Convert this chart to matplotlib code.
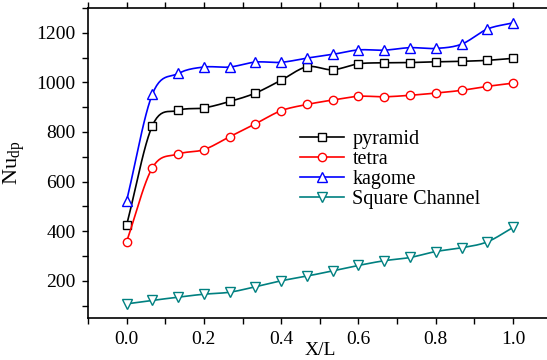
import numpy as np
import matplotlib
matplotlib.use('Agg')
import matplotlib.pyplot as plt
from matplotlib.ticker import MultipleLocator

plt.rcParams['font.family'] = ['Liberation Serif', 'DejaVu Serif']
plt.rcParams['mathtext.fontset'] = 'custom'
plt.rcParams['mathtext.rm'] = 'Liberation Serif'

# data
x_pos = [0.0, 0.0667, 0.1333, 0.2, 0.2667, 0.3333, 0.4, 0.4667,
         0.5333, 0.6, 0.6667, 0.7333, 0.8, 0.8667, 0.9333, 1.0]
pyramid = [425, 826, 887, 897, 923, 957, 1009, 1063,
           1051, 1075, 1079, 1080, 1083, 1085, 1089, 1097]
tetra = [358, 656, 711, 729, 781, 833, 886, 911,
         929, 944, 942, 948, 957, 968, 984, 997]
kagome = [523, 953, 1036, 1062, 1062, 1082, 1081, 1098,
          1113, 1131, 1130, 1140, 1137, 1154, 1215, 1240]
square_channel = [107, 121, 134, 146, 154, 176, 200, 219,
                  240, 262, 281, 294, 318, 333, 357, 415]

names = ['pyramid', 'tetra', 'kagome', 'Square Channel']
colors = ['black', 'red', 'blue', '#008080']
markers = ['s', 'o', '^', 'v']
msizes = [5.5, 6.0, 6.5, 6.5]


# smooth curve through the points (catmull-rom), like Origin's spline line
def smooth(xs, ys, n=12):
    xs = np.asarray(xs, float)
    ys = np.asarray(ys, float)
    px = np.concatenate([[2 * xs[0] - xs[1]], xs, [2 * xs[-1] - xs[-2]]])
    py = np.concatenate([[2 * ys[0] - ys[1]], ys, [2 * ys[-1] - ys[-2]]])
    out_x, out_y = [], []
    t = np.linspace(0, 1, n, endpoint=False)
    for i in range(1, len(px) - 2):
        for arr, out in ((px, out_x), (py, out_y)):
            p0, p1, p2, p3 = arr[i - 1], arr[i], arr[i + 1], arr[i + 2]
            out.extend(0.5 * (2 * p1 + (-p0 + p2) * t
                              + (2 * p0 - 5 * p1 + 4 * p2 - p3) * t ** 2
                              + (-p0 + 3 * p1 - 3 * p2 + p3) * t ** 3))
    out_x.append(xs[-1])
    out_y.append(ys[-1])
    return out_x, out_y


fig = plt.figure(figsize=(5.47, 3.6), dpi=100)
ax = fig.add_axes([88 / 547, 42 / 360, (551.7 - 88) / 547, 310 / 360])

for ys, name, c, m, s in zip([pyramid, tetra, kagome, square_channel], names, colors, markers, msizes):
    sx, sy = smooth(x_pos, ys)
    ax.plot(sx, sy, color=c, lw=1.2)
    ax.plot(x_pos, ys, ls='none', marker=m, ms=s, mfc='white', mec=c, mew=1.0)
    ax.plot([], [], color=c, lw=1.2, marker=m, ms=s, mfc='white', mec=c, mew=1.0, label=name)

ax.set_xlim(-0.1, 1.1)
ax.set_ylim(50, 1300)
ax.xaxis.set_major_locator(MultipleLocator(0.2))
ax.xaxis.set_minor_locator(MultipleLocator(0.1))
ax.yaxis.set_major_locator(MultipleLocator(200))
ax.yaxis.set_minor_locator(MultipleLocator(100))
ax.xaxis.set_major_formatter(plt.FuncFormatter(lambda v, p: '%.1f' % v))
ax.tick_params(which='both', direction='out', top=True, right=True, labelsize=14, width=1.0)
ax.tick_params(which='major', length=4, pad=5)
ax.tick_params(which='minor', length=4)
for s in ax.spines.values():
    s.set_linewidth(1.2)

ax.set_xlabel('X/L', fontsize=14, labelpad=-4)
ax.set_ylabel(r'Nu$_{\rm dp}$', fontsize=16, labelpad=6)

ax.legend(loc='upper left', bbox_to_anchor=(0.4356, 0.64), frameon=False, fontsize=14.5,
          handlelength=2.2, handletextpad=0.4, labelspacing=0.05, borderpad=0)

fig.savefig('out.png', dpi=100)
